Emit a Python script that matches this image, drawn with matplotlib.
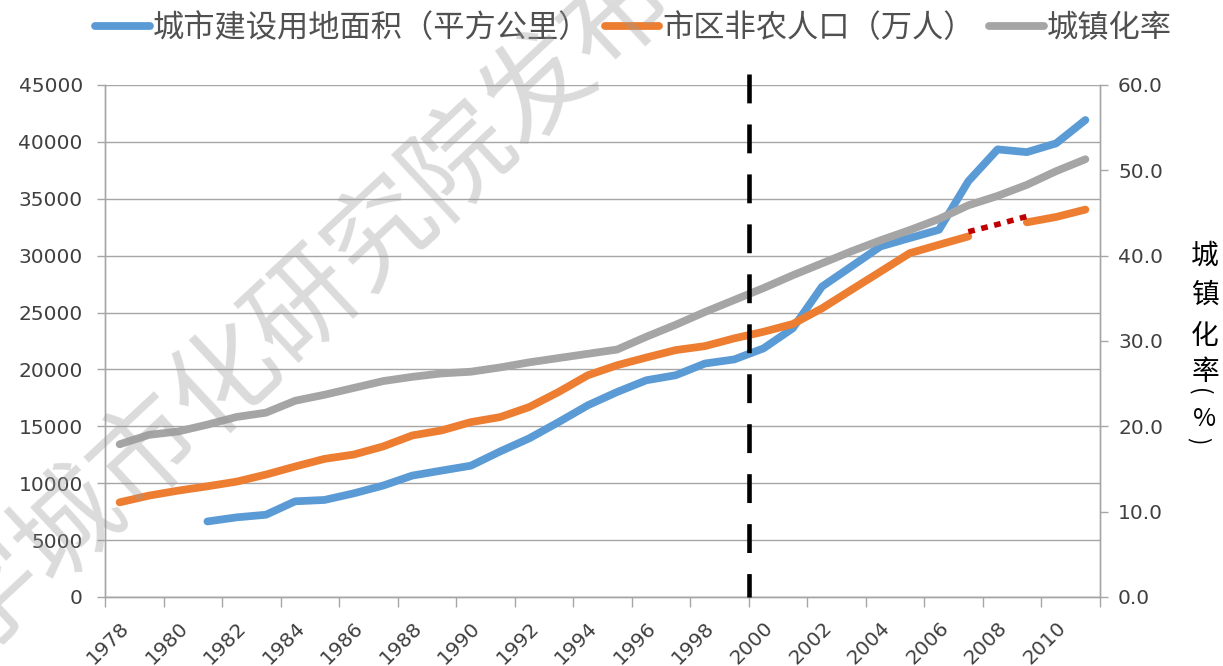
"""Urban land area, non-farm urban population and urbanization rate, 1978-2011.

Dual-axis line chart: left axis carries land area (km2) and population
(10k persons), right axis carries the urbanization rate (%).
"""
import matplotlib
matplotlib.use("Agg")
import matplotlib.pyplot as plt
from matplotlib.lines import Line2D
from matplotlib.ticker import FormatStrFormatter, FixedLocator, NullFormatter

plt.rcParams["font.family"] = ["DejaVu Sans", "Noto Sans CJK SC"]

# ---- data ----
YEARS = list(range(1978, 2012))

LAND_YEARS = list(range(1981, 2012))
LAND_AREA = [6640, 7000, 7230, 8410, 8530, 9110, 9790, 10670, 11110, 11540,
             12790, 13950, 15370, 16850, 18020, 19050, 19490, 20520, 20880,
             21850, 23610, 27280, 29040, 30810, 31550, 32280, 36540, 39340,
             39100, 39870, 41920]

POP_YEARS_A = list(range(1978, 2008))
POP_A = [8320, 8910, 9350, 9730, 10140, 10760, 11470, 12140, 12520, 13230,
         14200, 14640, 15370, 15810, 16700, 18020, 19490, 20370, 21050, 21700,
         22050, 22730, 23310, 23990, 25370, 26990, 28600, 30220, 30960, 31690]
POP_YEARS_B = [2009, 2010, 2011]
POP_B = [32930, 33400, 34050]
# missing-year bridge drawn as a red dotted segment
GAP_YEARS = [2007, 2008, 2009]
GAP_VALUES = [32100, 32750, 33450]

URBAN_RATE = [17.9, 19.0, 19.4, 20.2, 21.1, 21.6, 23.0, 23.7, 24.5, 25.3,
              25.8, 26.2, 26.4, 26.9, 27.5, 28.0, 28.5, 29.0, 30.5, 31.9,
              33.4, 34.8, 36.2, 37.7, 39.1, 40.5, 41.8, 43.0, 44.3, 45.9,
              47.0, 48.3, 49.9, 51.3]

DIVIDE_YEAR = 2000
LABEL_YEARS = list(range(1978, 2011, 2))

LEFT_TICKS = list(range(0, 45001, 5000))
RIGHT_TICKS = list(range(0, 61, 10))

LABELS = ["城市建设用地面积（平方公里）", "市区非农人口（万人）", "城镇化率"]
# right-axis title, one glyph per row; brackets lie on their side
RIGHT_CHARS = ["城", "镇", "化", "率", "(", "%", ")"]
RIGHT_ROWS = [256, 295, 336, 372, 392, 419, 441]
RIGHT_DX = [0, 0, 0, 0, -6, 0, -6]
RIGHT_ROT = [0, 0, 0, 0, -90, 0, -90]
RIGHT_SIZE = [20, 20, 20, 20, 16, 18, 16]
WATERMARK = "学城市化研究院发布"

BLUE, ORANGE, GREY, RED = "#5B9BD5", "#ED7D31", "#A5A5A5", "#C00000"
AXIS_GREY = "#A6A6A6"
TEXT_GREY = "#404040"

fig = plt.figure(figsize=(12.23, 6.66), dpi=100, facecolor="white")
ax = fig.add_axes([105 / 1223, 1 - 597 / 666, 995 / 1223, 512 / 666])
ax2 = ax.twinx()

lw = 5.6
line_kw = dict(lw=lw, solid_capstyle="round", solid_joinstyle="round")
ax.plot(LAND_YEARS, LAND_AREA, color=BLUE, zorder=3, **line_kw)
ax.plot(POP_YEARS_A, POP_A, color=ORANGE, zorder=3, **line_kw)
ax.plot(POP_YEARS_B, POP_B, color=ORANGE, zorder=3, **line_kw)
ax.plot(GAP_YEARS, GAP_VALUES, color=RED, lw=4.0, dashes=(1.2, 1.2),
        dash_capstyle="butt", zorder=3)
ax2.plot(YEARS, URBAN_RATE, color=GREY, zorder=3, **line_kw)

# 2000 divider, runs a little above the plot frame
ax2.plot([DIVIDE_YEAR - 0.5] * 2, [1.022, 0], transform=ax2.get_xaxis_transform(),
         color="black", lw=3.3, dashes=(6.3, 4.6), dash_capstyle="butt",
         clip_on=False, zorder=5)

ax.set_xlim(YEARS[0] - 0.5, YEARS[-1] + 0.5)
ax.set_ylim(0, 45000)
ax2.set_ylim(0, 60)

# category boundaries carry tick marks, centres carry the labels
ax.xaxis.set_major_locator(FixedLocator([y - 0.5 for y in range(1978, 2013, 2)]))
ax.xaxis.set_major_formatter(NullFormatter())
ax.xaxis.set_minor_locator(FixedLocator(LABEL_YEARS))
ax.set_xticklabels([str(y) for y in LABEL_YEARS], minor=True, rotation=45,
                   ha="right", va="top", rotation_mode="anchor",
                   fontsize=14.5, color=TEXT_GREY)
ax.tick_params(axis="x", which="major", length=7, width=1, color=AXIS_GREY,
               direction="out")
ax.tick_params(axis="x", which="minor", length=0, pad=15)

ax.set_yticks(LEFT_TICKS)
ax.tick_params(axis="y", length=6, width=1, color=AXIS_GREY, pad=10,
               labelsize=14.5, labelcolor=TEXT_GREY)
ax2.set_yticks(RIGHT_TICKS)
ax2.yaxis.set_major_formatter(FormatStrFormatter("%.1f"))
ax2.tick_params(axis="y", length=6, width=1, color=AXIS_GREY, pad=7,
                labelsize=14.5, labelcolor=TEXT_GREY)

ax.grid(axis="y", color=AXIS_GREY, lw=1.0)
ax.set_axisbelow(True)
for a in (ax, ax2):
    a.spines["top"].set_visible(False)
    for s in ("left", "right", "bottom"):
        a.spines[s].set_color(AXIS_GREY)
        a.spines[s].set_linewidth(1.0)

# legend across the top
handles = [Line2D([], [], color=c, lw=lw, solid_capstyle="round")
           for c in (BLUE, ORANGE, GREY)]
leg = fig.legend(handles, LABELS, loc="center", bbox_to_anchor=(0.518, 0.958),
                 ncol=3, frameon=False, handlelength=1.75, handletextpad=0.1,
                 columnspacing=0.45,
                 prop={"family": ["Noto Sans CJK SC"], "size": 22.5, "weight": "light"})
for t in leg.get_texts():
    t.set_color("#505050")

# stacked vertical title for the right axis
for ch, row, dx, rot, size in zip(RIGHT_CHARS, RIGHT_ROWS, RIGHT_DX,
                                  RIGHT_ROT, RIGHT_SIZE):
    fig.text((1205 + dx) / 1223, 1 - row / 666, ch, ha="center", va="center",
             rotation=rot, rotation_mode="anchor", fontsize=size,
             family=["Noto Sans CJK SC", "DejaVu Sans"], weight="medium",
             color="black")

# faint diagonal watermark
fig.text(305 / 1223, 1 - 305 / 666, WATERMARK, ha="center", va="center",
         rotation=43, fontsize=77, family=["Noto Sans CJK SC"],
         color="#9A9A9A", alpha=0.36, zorder=10)

fig.savefig("out.png", dpi=100, facecolor="white")
